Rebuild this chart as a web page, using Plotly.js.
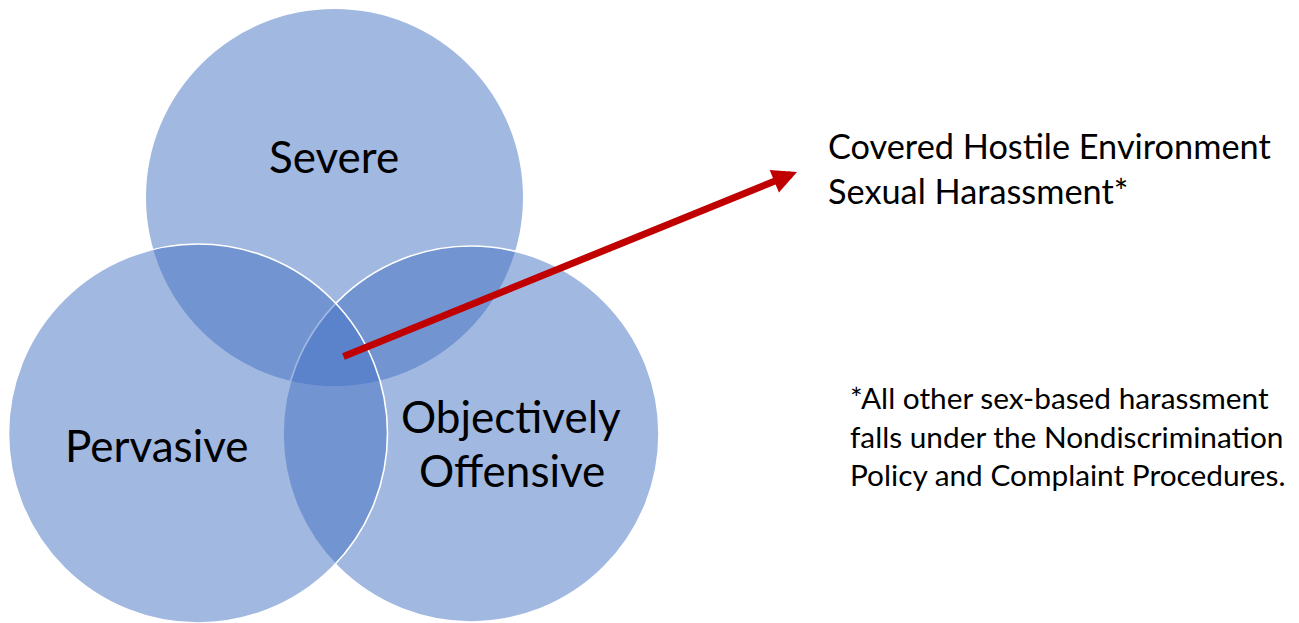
<!DOCTYPE html>
<html>
<head>
<meta charset="utf-8">
<script src="https://cdn.plot.ly/plotly-3.0.1.min.js"></script>
<style>html,body{margin:0;padding:0;background:#fff;}#chart{width:1299px;height:623px;}</style>
</head>
<body>
<div id="chart"></div>
<script>
// Venn circles (drawing order: Severe, Objectively Offensive, Pervasive)
const circleNames = ["Severe", "Objectively Offensive", "Pervasive"];
const circleCX = [334.5, 471, 198];
const circleCY = [197.5, 434, 433.5];
const circleR = [188.5, 188, 189.5];
const circleOutline = [0, 1.6, 1.6];

// Circle labels (one entry per line)
const labelText = ["Severe", "Pervasive", "Objectively", "Offensive"];
const labelX = [334, 157, 511, 512];
const labelY = [156, 445, 416, 470];

// Arrow from the triple overlap to the callout
const arrowTail = [342, 357];
const arrowTip = [797, 172];

// Callout and footnote texts
const calloutText = "Covered Hostile Environment<br>Sexual Harassment*";
const calloutPos = [826, 168];
const footnoteText = "*All other sex-based harassment<br>falls under the Nondiscrimination<br>Policy and Complaint Procedures.";
const footnotePos = [848, 436];

const FONT = "Lato, 'Open Sans', sans-serif";

const shapes = circleNames.map((n, i) => ({
  type: "circle", xref: "x", yref: "y", layer: "above",
  x0: circleCX[i] - circleR[i], x1: circleCX[i] + circleR[i],
  y0: circleCY[i] - circleR[i], y1: circleCY[i] + circleR[i],
  fillcolor: "rgba(68,114,196,0.5)",
  line: {color: "#ffffff", width: circleOutline[i]}
}));

const annotations = labelText.map((t, i) => ({
  text: t, x: labelX[i], y: labelY[i], xref: "x", yref: "y",
  showarrow: false, xanchor: "center", yanchor: "middle",
  font: {family: FONT, size: 44, color: "#000"}
}));

annotations.push({
  x: arrowTip[0], y: arrowTip[1], ax: arrowTail[0], ay: arrowTail[1],
  xref: "x", yref: "y", axref: "x", ayref: "y", text: "",
  showarrow: true, arrowhead: 2, arrowsize: 0.7, arrowwidth: 7, arrowcolor: "#C00000"
});

annotations.push({
  text: calloutText, x: calloutPos[0], y: calloutPos[1], xref: "x", yref: "y",
  showarrow: false, xanchor: "left", yanchor: "middle", align: "left",
  font: {family: FONT, size: 34.3, color: "#000"}
});
annotations.push({
  text: footnoteText, x: footnotePos[0], y: footnotePos[1], xref: "x", yref: "y",
  showarrow: false, xanchor: "left", yanchor: "middle", align: "left",
  font: {family: FONT, size: 29.8, color: "#000"}
});

const layout = {
  width: 1299, height: 623,
  margin: {l: 0, r: 0, t: 0, b: 0},
  paper_bgcolor: "#fff", plot_bgcolor: "#fff",
  xaxis: {range: [0, 1299], visible: false, fixedrange: true},
  yaxis: {range: [623, 0], visible: false, fixedrange: true},
  shapes: shapes, annotations: annotations, showlegend: false
};

Plotly.newPlot("chart", [{x: [], y: [], type: "scatter"}], layout, {staticPlot: true});
</script>
</body>
</html>
